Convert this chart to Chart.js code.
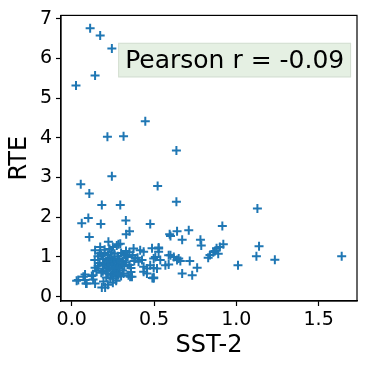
<!DOCTYPE html>
<html>
<head>
<meta charset="utf-8">
<script src="https://cdn.jsdelivr.net/npm/chart.js@4"></script>
<style>body{margin:0;background:#fff}</style>
</head>
<body>
<canvas id="chartScatter" width="366" height="369"></canvas>
<script>
// SST-2 (x) vs RTE (y), one entry per point
const sstValues = [
    0.112, 0.173, 0.244, 0.142, 0.026, 0.217, 0.315, 0.447, 0.636,
    0.244, 0.055, 0.522, 0.107, 0.183, 0.295, 0.636, 0.101, 0.061, 0.177, 0.329, 0.477,
    0.351, 0.331, 0.107, 0.595, 0.640, 0.711, 0.671, 0.782, 0.787, 0.915, 0.921,
    1.128, 1.138, 1.122, 1.234, 1.640, 1.010,
    0.880, 0.900, 0.870, 0.860, 0.890, 0.840, 0.829, 0.762, 0.732, 0.671, 0.717, 0.660,
    0.600, 0.528, 0.528, 0.600, 0.620, 0.640, 0.508, 0.538, 0.518, 0.569, 0.589, 0.498,
    0.488, 0.498, 0.490, 0.437, 0.457, 0.376, 0.416, 0.437, 0.386, 0.406, 0.427, 0.366,
    0.315, 0.345, 0.274, 0.274, 0.295, 0.170, 0.160, 0.140, 0.142, 0.189, 0.130, 0.081,
    0.040, 0.081, 0.130, 0.193, 0.183, 0.203, 0.234, 0.087, 0.030, 0.498,
    0.223, 0.173, 0.142, 0.284, 0.528, 0.498, 0.589, 0.650, 0.477, 0.437, 0.457, 0.355,
    0.284, 0.071, 0.122, 0.142, 0.091,
    0.20, 0.22, 0.24, 0.26, 0.28, 0.30, 0.32, 0.34,
    0.19, 0.21, 0.23, 0.25, 0.27, 0.29, 0.31, 0.33,
    0.20, 0.22, 0.24, 0.26, 0.28, 0.30, 0.32, 0.35,
    0.19, 0.21, 0.23, 0.25, 0.27, 0.29, 0.31, 0.36,
    0.22, 0.24, 0.26, 0.28, 0.30, 0.25, 0.27, 0.21,
    0.23, 0.25, 0.20, 0.18, 0.17, 0.16, 0.15, 0.18,
    0.35, 0.37, 0.38, 0.36, 0.40, 0.33, 0.24, 0.26, 0.22, 0.28,
    0.22, 0.25
];
const rteValues = [
    6.76, 6.58, 6.25, 5.57, 5.32, 4.03, 4.04, 4.42, 3.68,
    3.03, 2.83, 2.79, 2.60, 2.31, 2.31, 2.39, 1.98, 1.85, 1.83, 1.92, 1.83,
    1.65, 1.57, 1.50, 1.57, 1.65, 1.67, 1.43, 1.43, 1.29, 1.78, 1.32,
    2.22, 1.27, 1.02, 0.93, 1.02, 0.79,
    1.22, 1.25, 1.15, 1.12, 1.08, 1.05, 0.98, 0.73, 0.54, 0.58, 0.90, 0.90,
    1.53, 1.21, 1.13, 1.04, 1.00, 0.92, 1.00, 0.92, 0.71, 0.79, 0.81, 0.46,
    1.22, 0.72, 0.47, 0.75, 0.71, 1.21, 1.17, 1.13, 0.96, 0.88, 0.92, 0.50,
    0.58, 0.54, 0.50, 1.29, 1.33, 1.09, 1.02, 0.92, 0.73, 0.64, 0.54, 0.56,
    0.42, 0.42, 0.43, 0.38, 0.23, 0.23, 0.46, 0.33, 0.40, 0.48,
    1.38, 1.25, 1.17, 1.32, 1.24, 0.96, 1.04, 0.96, 0.79, 0.63, 0.58, 0.50,
    0.54, 0.50, 0.52, 0.33, 0.33,
    1.10, 1.05, 1.12, 1.08, 1.02, 1.10, 1.05, 1.00,
    0.95, 0.90, 0.97, 0.92, 0.88, 0.94, 0.90, 0.86,
    0.82, 0.78, 0.85, 0.80, 0.75, 0.82, 0.77, 0.80,
    0.70, 0.66, 0.72, 0.68, 0.63, 0.70, 0.66, 0.72,
    0.58, 0.55, 0.60, 0.57, 0.52, 0.45, 0.40, 0.48,
    1.20, 1.25, 1.18, 1.05, 0.85, 0.78, 0.65, 0.60,
    1.12, 1.05, 0.90, 0.62, 0.98, 1.15, 0.98, 0.72, 0.88, 0.95,
    0.30, 0.35
];
const xTicks = [0, 0.5, 1.0, 1.5];
const yTicks = [0, 1, 2, 3, 4, 5, 6, 7];
const xLabel = 'SST-2';
const yLabel = 'RTE';
const annotationText = 'Pearson r = -0.09';

Chart.defaults.font.family = 'DejaVu Sans';
Chart.defaults.color = '#000';

// full box around the axes, like matplotlib spines
const frameBox = {
    id: 'frameBox',
    afterDraw(chart) {
        const {ctx, chartArea: a} = chart;
        ctx.save();
        ctx.strokeStyle = '#000';
        ctx.lineWidth = 1.2;
        ctx.strokeRect(a.left, a.top, a.right - a.left, a.bottom - a.top);
        ctx.restore();
    }
};

// text box in axes fraction coords
const pearsonBox = {
    id: 'pearsonBox',
    afterDatasetsDraw(chart) {
        const {ctx, chartArea: a} = chart;
        const w = a.right - a.left, h = a.bottom - a.top;
        const x0 = a.left + 0.193 * w, x1 = a.left + 0.98 * w;
        const y0 = a.top + 0.096 * h, y1 = a.top + 0.217 * h;
        ctx.save();
        ctx.fillStyle = 'rgb(229,240,227)';
        ctx.strokeStyle = 'rgb(212,222,210)';
        ctx.lineWidth = 1;
        ctx.fillRect(x0, y0, x1 - x0, y1 - y0);
        ctx.strokeRect(x0 + 0.5, y0 + 0.5, x1 - x0 - 1, y1 - y0 - 1);
        ctx.fillStyle = '#000';
        ctx.font = '25px "DejaVu Sans"';
        ctx.textBaseline = 'middle';
        ctx.fillText(annotationText, x0 + 7, (y0 + y1) / 2 + 1);
        ctx.restore();
    }
};

const points = sstValues.map((x, i) => ({x: x, y: rteValues[i]}));

new Chart(document.getElementById('chartScatter'), {
    type: 'scatter',
    data: {
        datasets: [{
            data: points,
            pointStyle: 'cross',
            pointRadius: 4.5,
            pointBorderWidth: 2,
            borderColor: '#1f77b4',
            backgroundColor: '#1f77b4'
        }]
    },
    options: {
        responsive: false,
        animation: false,
        layout: {padding: {top: 13, right: 9, left: 0, bottom: 0}},
        plugins: {legend: {display: false}, tooltip: {enabled: false}},
        scales: {
            x: {
                type: 'linear',
                min: -0.065,
                max: 1.733,
                afterBuildTicks: s => { s.ticks = xTicks.map(v => ({value: v})); },
                afterFit: s => { s.height = 68; },
                grid: {drawOnChartArea: false, drawTicks: true, tickLength: 5, color: '#000', tickWidth: 1.2},
                border: {display: true, color: '#000', width: 1.2},
                ticks: {font: {size: 19}, color: '#000', padding: 3, maxRotation: 0, autoSkip: false,
                        callback: v => Number(v).toFixed(1)},
                title: {display: true, text: xLabel, font: {size: 24}, color: '#000', padding: {top: 0, bottom: 9}}
            },
            y: {
                type: 'linear',
                min: -0.11,
                max: 7.085,
                afterBuildTicks: s => { s.ticks = yTicks.map(v => ({value: v})); },
                afterFit: s => { s.width = 61; },
                grid: {drawOnChartArea: false, drawTicks: true, tickLength: 5, color: '#000', tickWidth: 1.2},
                border: {display: true, color: '#000', width: 1.2},
                ticks: {font: {size: 19}, color: '#000', padding: 4, autoSkip: false,
                        callback: v => String(v)},
                title: {display: true, text: yLabel, font: {size: 24}, color: '#000', padding: {top: 5, bottom: 0}}
            }
        }
    },
    plugins: [frameBox, pearsonBox]
});
</script>
</body>
</html>
